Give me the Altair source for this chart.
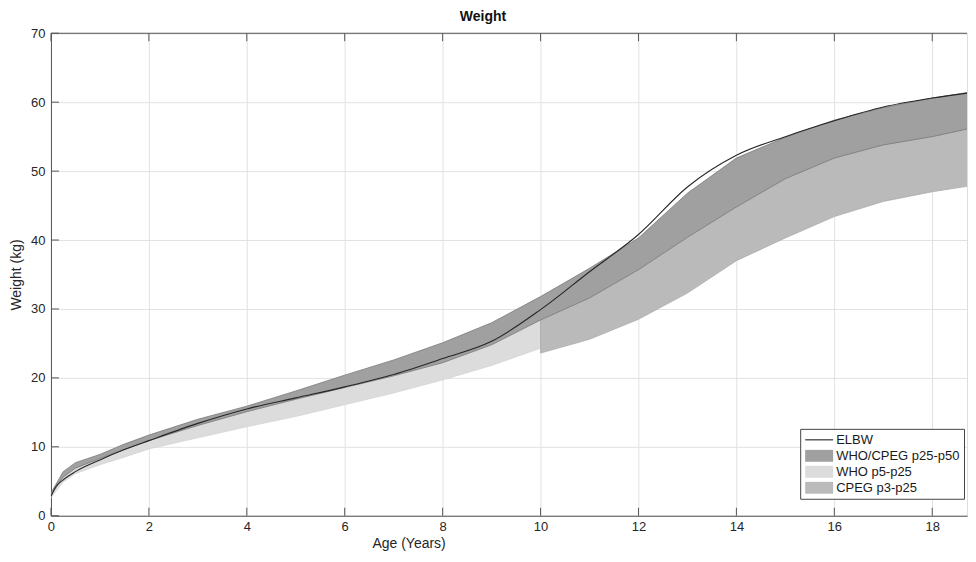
import altair as alt
import pandas as pd

# ---------------- data ----------------
ages_who = [0, 0.25, 0.5, 1, 1.5, 2, 3, 4, 5, 6, 7, 8, 9, 10]
who_p50 = [3.3, 6.4, 7.7, 8.9, 10.4, 11.7, 14.0, 15.9, 18.1, 20.4, 22.6, 25.1, 28.0, 31.8]
who_p25 = [3.0, 5.6, 6.9, 8.3, 9.6, 10.9, 13.1, 15.1, 16.9, 18.6, 20.3, 22.2, 24.8, 28.4]
who_p5 = [2.6, 4.9, 6.1, 7.4, 8.5, 9.7, 11.3, 12.9, 14.4, 16.1, 17.8, 19.7, 21.8, 24.3]

ages_cpeg = [10, 11, 12, 13, 14, 15, 16, 17, 18, 18.9]
cpeg_p50 = [31.8, 35.9, 40.3, 46.8, 51.9, 54.9, 57.4, 59.2, 60.6, 61.6]
cpeg_p25 = [28.4, 31.6, 35.7, 40.4, 44.8, 48.9, 51.9, 53.8, 55.0, 56.4]
cpeg_p3 = [23.6, 25.6, 28.5, 32.3, 37.0, 40.3, 43.4, 45.6, 47.0, 48.0]

ages_elbw = [0, 0.1, 0.25, 0.5, 1, 1.5, 2, 3, 4, 5, 6, 7, 8, 9, 10, 11, 12, 13, 14, 15, 16, 17, 18, 18.9]
elbw = [2.8, 4.2, 5.2, 6.4, 8.1, 9.6, 10.9, 13.4, 15.5, 17.1, 18.7, 20.5, 22.8, 25.3, 29.9,
        35.4, 40.8, 47.7, 52.3, 55.0, 57.3, 59.3, 60.6, 61.5]

x_ticks = [0, 2, 4, 6, 8, 10, 12, 14, 16, 18]
y_ticks = [0, 10, 20, 30, 40, 50, 60, 70]

series_names = ["ELBW", "WHO/CPEG p25-p50", "WHO p5-p25", "CPEG p3-p25"]
series_colors = ["#262626", "#a0a0a0", "#dcdcdc", "#bababa"]
line_path = "M-2,-0.08H2V0.08H-2Z"
patch_path = "M-2,-0.85H2V0.85H-2Z"
series_shapes = [line_path, patch_path, patch_path, patch_path]

# ---------------- tables ----------------
dark_df = pd.DataFrame({
    "age": ages_who + ages_cpeg[1:],
    "hi": who_p50 + cpeg_p50[1:],
    "lo": who_p25 + cpeg_p25[1:],
})
who_df = pd.DataFrame({"age": ages_who, "hi": who_p25, "lo": who_p5})
cpeg_df = pd.DataFrame({"age": ages_cpeg, "hi": cpeg_p25, "lo": cpeg_p3})
elbw_df = pd.DataFrame({"age": ages_elbw, "w": elbw})
xt_df = pd.DataFrame({"age": x_ticks})
yt_df = pd.DataFrame({"w": y_ticks})
top_df = pd.DataFrame({"w": [70]})
leg_df = pd.DataFrame({"series": series_names})

W, H = 917, 483
FONT = "Liberation Sans"

xscale = alt.Scale(domain=[0, 18.71], nice=False, zero=False)
yscale = alt.Scale(domain=[0, 70], nice=False)
xaxis = alt.Axis(values=x_ticks, grid=True, ticks=False, domainColor="#555555",
                 labelFont=FONT, labelFontSize=13, labelColor="#262626", labelPadding=5,
                 titleFont=FONT, titleFontSize=14, titleFontWeight="normal",
                 titleColor="#262626", titlePadding=3, gridColor="#e2e2e2",
                 labelFlush=False, titleX=358, titleAlign="center")
yaxis = alt.Axis(values=y_ticks, grid=True, ticks=False, domainColor="#555555",
                 labelFont=FONT, labelFontSize=13, labelColor="#262626", labelPadding=6,
                 titleFont=FONT, titleFontSize=14, titleFontWeight="normal",
                 titleColor="#262626", titlePadding=7, gridColor="#e2e2e2")

X = lambda f: alt.X(f, type="quantitative", scale=xscale, axis=xaxis, title="Age (Years)")
Y = lambda f: alt.Y(f, type="quantitative", scale=yscale, axis=yaxis, title="Weight (kg)")

who_layer = alt.Chart(who_df).mark_area(
    color="#dcdcdc", stroke="#cfcfcf", strokeWidth=0.6, clip=True
).encode(x=X("age"), y=Y("hi"), y2="lo")

cpeg_layer = alt.Chart(cpeg_df).mark_area(
    color="#bababa", stroke="#a6a6a6", strokeWidth=0.7, clip=True
).encode(x=X("age"), y=Y("hi"), y2="lo")

dark_layer = alt.Chart(dark_df).mark_area(
    color="#a0a0a0", stroke="#7a7a7a", strokeWidth=0.8, clip=True
).encode(x=X("age"), y=Y("hi"), y2="lo")

elbw_layer = alt.Chart(elbw_df).mark_line(
    color="#262626", strokeWidth=1.1, clip=True, interpolate="monotone"
).encode(x=X("age"), y=Y("w"))

top_border = alt.Chart(top_df).mark_rule(color="#555555", strokeWidth=1).encode(y=Y("w"))

bottom_ticks = alt.Chart(xt_df).mark_rule(color="#555555").encode(
    x=X("age"), y=alt.value(H), y2=alt.value(H - 8))
top_ticks = alt.Chart(xt_df).mark_rule(color="#555555").encode(
    x=X("age"), y=alt.value(0), y2=alt.value(8))
left_ticks = alt.Chart(yt_df).mark_rule(color="#555555").encode(
    y=Y("w"), x=alt.value(0), x2=alt.value(8))

leg = alt.Legend(title=None, orient="none", legendX=750, legendY=396, direction="vertical",
                 labelFont=FONT, labelFontSize=13, labelColor="#1a1a1a",
                 symbolOffset=8, labelOffset=10,
                 symbolOpacity=1, symbolStrokeWidth=0, symbolSize=196,
                 fillColor="white", strokeColor="#444444", padding=4, rowPadding=2)

legend_layer = alt.Chart(leg_df).mark_point(filled=True, opacity=0, size=196).encode(
    x=alt.value(0), y=alt.value(0),
    color=alt.Color("series:N", scale=alt.Scale(domain=series_names, range=series_colors),
                    legend=leg, sort=series_names),
    shape=alt.Shape("series:N", scale=alt.Scale(domain=series_names, range=series_shapes),
                    legend=leg, sort=series_names),
)

chart = alt.layer(
    who_layer, cpeg_layer, dark_layer, elbw_layer,
    top_border, bottom_ticks, top_ticks, left_ticks, legend_layer
).properties(
    width=W, height=H,
    title=alt.TitleParams("Weight", font=FONT, fontSize=14, fontWeight="bold",
                          color="#111111", anchor="middle", dx=-26, offset=3),
    padding={"left": 1, "top": 2, "right": 0, "bottom": 0},
).configure_view(strokeWidth=0).configure(background="white")

chart.save("out.html", embed_options={"renderer": "svg", "actions": False})
